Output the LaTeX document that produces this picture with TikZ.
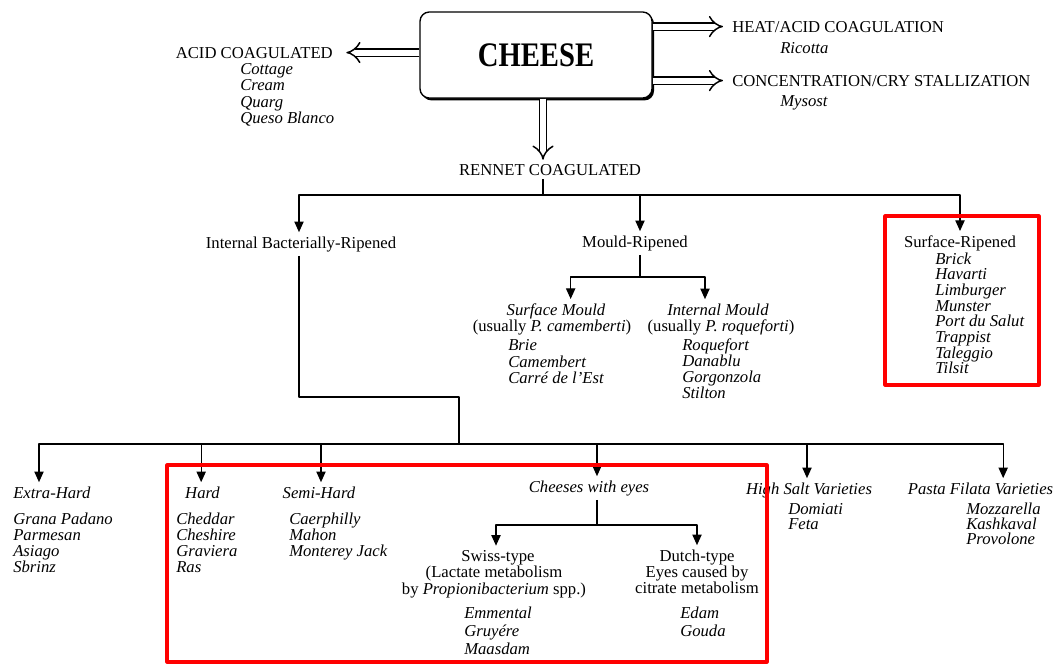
\documentclass[tikz,border=0pt]{standalone}
\usepackage{fontspec}
\usepackage{graphicx}
\setmainfont{Liberation Serif}
\usetikzlibrary{arrows.meta,shadows}
\begin{document}
\begin{tikzpicture}[x=0.75pt, y=-0.75pt, font=\fontsize{12.5}{12}\selectfont, line join=round, >={Triangle[length=8pt,width=7pt]}]
	\tikzset{
		cat/.style={anchor=base, inner sep=3pt},
		item/.style={anchor=base west, inner sep=0pt, font=\fontsize{12.5}{12}\selectfont\itshape},
		link/.style={line width=0.9pt},
		hollow/.style={double, double distance=4.5pt, line width=1.1pt, -{Implies}},
		redbox/.style={draw=red, line width=2.3pt}
	}
	\useasboundingbox (0,0) rectangle (1057,664);
	% Junction points
	\path
	(543,195) coordinate (stem)
	(640,277) coordinate (mj)
	(459,397) coordinate (ik)
	(459,444) coordinate (bus)
	(597,525) coordinate (ej);
	% Main box
	\node[draw, fill=white, line width=1pt, rounded corners=7pt, minimum width=174pt, minimum height=64.5pt,
		drop shadow={shadow xshift=1.5pt, shadow yshift=-1.8pt, opacity=1, fill=black}] (cheese) at (536,55)
		{\fontsize{21.5}{21.5}\selectfont\bfseries\scalebox{1}[1.2]{CHEESE}};
	% Side branches
	\node[cat, anchor=base east] (acid) at (337,58) {ACID COAGULATED};
	\foreach \c [count=\i] in {Cottage,Cream,Quarg,Queso Blanco}
	\node[item] (acid\i) at (240,57.5+16.5*\i) {\c};
	\node[cat, anchor=base west] (heat) at (728,32) {HEAT/ACID COAGULATION};
	\node[item] (ricotta) at (780,53) {Ricotta};
	\node[cat, anchor=base west] (conc) at (728,86) {CONCENTRATION/CRY STALLIZATION};
	\node[item] (mysost) at (780,106) {Mysost};
	\draw[hollow] (cheese.west |- acid) -- ([xshift=7pt]acid.east);
	\draw[hollow] (cheese.east |- heat) -- ([xshift=-3.75pt]heat.west);
	\draw[hollow] (cheese.east |- conc) -- ([xshift=-3.75pt]conc.west);
	% Rennet coagulated
	\node[cat] (rennet) at (550,175) {RENNET COAGULATED};
	\draw[hollow] (cheese.south -| stem) -- (rennet.north -| stem);
	\node[cat] (ibr) at (301,248) {Internal Bacterially-Ripened};
	\node[cat] (mould) at (635,247) {Mould-Ripened};
	\node[cat] (surf) at (960,247) {Surface-Ripened};
	\foreach \c [count=\i] in {Brick,Havarti,Limburger,Munster,Port du Salut,Trappist,Taleggio,Tilsit}
	\node[item] (surf\i) at (935,248.3+15.7*\i) {\c};
	\draw[link] (rennet.south -| stem) -- (stem);
	\draw[link,->] (stem) -| ([xshift=-1.5pt]ibr.north);
	\draw[link,->] (stem) -| ([xshift=3.75pt]mould.north);
	\draw[link,->] (stem) -| (surf.north);
	% Mould-ripened
	\node[cat] (smould) at (556,315) {\itshape Surface Mould};
	\node[cat] (smould2) at (552,331) {(usually \textit{P. camemberti})};
	\foreach \c [count=\i] in {Brie,Camembert,Carré de l’Est}
	\node[item] (sm\i) at (508,334+16.5*\i) {\c};
	\node[cat] (imould) at (718,315) {\itshape Internal Mould};
	\node[cat] (imould2) at (721,331) {(usually \textit{P. roqueforti})};
	\foreach \c [count=\i] in {Roquefort,Danablu,Gorgonzola,Stilton}
	\node[item] (im\i) at (682,334+16*\i) {\c};
	\draw[link] (mould.south -| mj) -- (mj);
	\draw[link,->] (mj) -| ([xshift=11pt]smould.north);
	\draw[link,->] (mj) -| ([xshift=-9.75pt]imould.north);
	% Internal bacterially-ripened
	\draw[link] ([xshift=-1.5pt]ibr.south) |- (ik) -- (bus);
	\node[cat, anchor=base west] (xhard) at (9,498) {\itshape Extra-Hard};
	\foreach \c [count=\i] in {Grana Padano,Parmesan,Asiago,Sbrinz}
	\node[item] (xh\i) at (13,508+16*\i) {\c};
	\node[cat] (hard) at (202.5,498) {\itshape Hard};
	\foreach \c [count=\i] in {Cheddar,Cheshire,Graviera,Ras}
	\node[item] (hd\i) at (176,508+16*\i) {\c};
	\node[cat] (shard) at (319,498) {\itshape Semi-Hard};
	\foreach \c [count=\i] in {Caerphilly,Mahon,Monterey Jack}
	\node[item] (sh\i) at (289,508+16*\i) {\c};
	\node[cat] (eyes) at (589,492) {\itshape Cheeses with eyes};
	\node[cat] (salt) at (809,494) {\itshape High Salt Varieties};
	\foreach \c [count=\i] in {Domiati,Feta}
	\node[item] (hs\i) at (788,499+15*\i) {\c};
	\node[cat] (pasta) at (980.5,494) {\itshape Pasta Filata Varieties};
	\foreach \c [count=\i] in {Mozzarella,Kashkaval,Provolone}
	\node[item] (pf\i) at (966,499+15*\i) {\c};
	\draw[link,->] (bus) -| ([xshift=22.5pt]xhard.north west);
	\draw[link,->] (bus) -| ([xshift=-1pt]hard.north);
	\draw[link,->] (bus) -| ([xshift=1.5pt]shard.north);
	\draw[link,->] (bus) -| ([xshift=6pt]eyes.north);
	\draw[link,->] (bus) -| ([xshift=-1.5pt]salt.north);
	\draw[link,->] (bus) -| ([xshift=17pt]pasta.north);
	% Cheeses with eyes
	\node[cat] (swiss) at (498,561) {Swiss-type};
	\node[cat] (swiss2) at (494,577) {(Lactate metabolism};
	\node[cat] (swiss3) at (494,594) {by \textit{Propionibacterium} spp.)};
	\foreach \c [count=\i] in {Emmental,Gruyére,Maasdam}
	\node[item] (sw\i) at (464,600+18*\i) {\c};
	\node[cat] (dutch) at (697,561) {Dutch-type};
	\node[cat] (dutch2) at (697,577) {Eyes caused by};
	\node[cat] (dutch3) at (697,593) {citrate metabolism};
	\foreach \c [count=\i] in {Edam,Gouda}
	\node[item] (du\i) at (680,600+18*\i) {\c};
	\draw[link] (eyes.south -| ej) -- (ej);
	\draw[link,->] (ej) -| ([xshift=-1.5pt]swiss.north);
	\draw[link,->] (ej) -| (dutch.north);
	% Highlights
	\draw[redbox] (885,216) rectangle (1039,385);
	\draw[redbox] (167,465) rectangle (767,662);
\end{tikzpicture}
\end{document}
